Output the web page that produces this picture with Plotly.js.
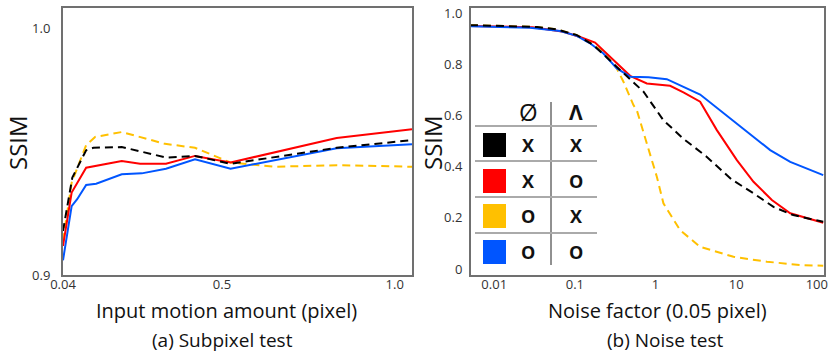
<!DOCTYPE html>
<html>
<head>
<meta charset="utf-8">
<script src="https://cdn.plot.ly/plotly-3.0.1.min.js"></script>
<style>
  html, body { margin: 0; padding: 0; background: #fff; }
  #chart { width: 830px; height: 359px; }
</style>
</head>
<body>
<div id="chart"></div>
<script>
// (a) subpixel test: input motion amount (pixel) vs SSIM
const subBlackX  = [0.04, 0.067, 0.107, 0.128, 0.21, 0.34, 0.422, 0.525, 0.832, 1.05];
const subBlackY  = [0.9179, 0.9396, 0.9507, 0.9517, 0.952, 0.9477, 0.9484, 0.9452, 0.9517, 0.9548];
const subRedX    = [0.04, 0.065, 0.107, 0.21, 0.263, 0.338, 0.422, 0.525, 0.832, 1.05];
const subRedY    = [0.9118, 0.9335, 0.9436, 0.9463, 0.9452, 0.9452, 0.9484, 0.9457, 0.9557, 0.9592];
const subYellowX = [0.04, 0.065, 0.107, 0.133, 0.21, 0.335, 0.422, 0.525, 0.653, 0.832, 1.05];
const subYellowY = [0.9138, 0.9375, 0.9528, 0.9561, 0.9581, 0.9533, 0.9517, 0.9457, 0.944, 0.9446, 0.944];
const subBlueX   = [0.04, 0.065, 0.081, 0.107, 0.136, 0.21, 0.268, 0.338, 0.422, 0.525, 0.832, 1.05];
const subBlueY   = [0.906, 0.928, 0.9308, 0.9366, 0.9371, 0.9409, 0.9413, 0.9432, 0.947, 0.9432, 0.9515, 0.9531];

// (b) noise test: noise factor (0.05 pixel) vs SSIM
const noiseBlackX  = [0.005, 0.034, 0.06, 0.106, 0.17, 0.27, 0.44, 0.71, 1.25, 2.2, 4.3, 8.8, 16.4, 29, 51, 120];
const noiseBlackY  = [0.953, 0.946, 0.936, 0.914, 0.875, 0.816, 0.751, 0.693, 0.582, 0.51, 0.439, 0.35, 0.296, 0.243, 0.211, 0.185];
const noiseRedX    = [0.005, 0.03, 0.072, 0.116, 0.178, 0.2735, 0.484, 0.78, 1.517, 2.219, 3.575, 5.76, 10.2, 16.4, 27.7, 46.8, 120];
const noiseRedY    = [0.95, 0.945, 0.927, 0.907, 0.885, 0.829, 0.755, 0.725, 0.716, 0.69, 0.654, 0.543, 0.426, 0.341, 0.27, 0.218, 0.181];
const noiseYellowX = [0.005, 0.034, 0.06, 0.106, 0.1274, 0.226, 0.331, 0.40, 0.532, 0.586, 0.899, 1.04, 1.253, 2.019, 3.575, 9.26, 24, 62.2, 120];
const noiseYellowY = [0.953, 0.946, 0.936, 0.914, 0.901, 0.849, 0.784, 0.732, 0.641, 0.621, 0.426, 0.36, 0.257, 0.152, 0.087, 0.048, 0.029, 0.016, 0.013];
const noiseBlueX   = [0.005, 0.0278, 0.0655, 0.1056, 0.1544, 0.226, 0.331, 0.49, 0.82, 1.38, 3.575, 10.2, 26.4, 46.8, 120];
const noiseBlueY   = [0.949, 0.943, 0.93, 0.911, 0.882, 0.842, 0.784, 0.751, 0.749, 0.742, 0.682, 0.569, 0.465, 0.419, 0.367];

// legend table
const seriesColors = ['#000000', '#ff0000', '#ffc000', '#0055ff'];
const legendPhi    = ['X', 'X', 'O', 'O'];
const legendLambda = ['X', 'O', 'X', 'O'];

const subTicks   = [0.04, 0.5, 1.0];
const subTickTxt = ['0.04', '0.5', '1.0'];
const noiseTicks = [0.01, 0.1, 1, 10, 100];
const noiseTickTxt = ['0.01', '0.1', '1', '10', '100'];
const ssimTicks  = [0, 0.2, 0.4, 0.6, 0.8, 1.0];
const ssimTickTxt = ['0', '0.2', '0.4', '0.6', '0.8', '1.0'];

const W = 830, H = 359;
const px = x => x / W;
const py = y => 1 - y / H;

function line(x, y, color, dash, xa, ya) {
  return {
    x: x, y: y, xaxis: xa, yaxis: ya,
    type: 'scatter', mode: 'lines',
    line: { color: color, width: 2, dash: dash ? '8px,5px' : 'solid' },
    showlegend: false, hoverinfo: 'skip'
  };
}

const traces = [
  line(subYellowX, subYellowY, seriesColors[2], true, 'x', 'y'),
  line(subBlueX, subBlueY, seriesColors[3], false, 'x', 'y'),
  line(subRedX, subRedY, seriesColors[1], false, 'x', 'y'),
  line(subBlackX, subBlackY, seriesColors[0], true, 'x', 'y'),
  line(noiseYellowX, noiseYellowY, seriesColors[2], true, 'x2', 'y2'),
  line(noiseRedX, noiseRedY, seriesColors[1], false, 'x2', 'y2'),
  line(noiseBlueX, noiseBlueY, seriesColors[3], false, 'x2', 'y2'),
  line(noiseBlackX, noiseBlackY, seriesColors[0], true, 'x2', 'y2')
];

const font = 'Open Sans, sans-serif';
const axisBase = {
  showline: true, mirror: true, linecolor: '#707070', linewidth: 2,
  showgrid: false, zeroline: false, ticks: '',
  tickfont: { family: font, size: 13, color: '#333' }
};
const yDomain = [py(275), py(8)];

const annotations = [
  { x: px(17), y: py(143), text: 'SSIM', textangle: -90, font: { size: 24 } },
  { x: px(432), y: py(143), text: 'SSIM', textangle: -90, font: { size: 24 } },
  { x: px(226), y: py(310), text: 'Input motion amount (pixel)', font: { size: 20 } },
  { x: px(657), y: py(310), text: 'Noise factor (0.05 pixel)', font: { size: 20 } },
  { x: px(222), y: py(340), text: '(a) Subpixel test', font: { size: 19 } },
  { x: px(665), y: py(340), text: '(b) Noise test', font: { size: 19 } },
  { x: px(528), y: py(111), text: 'Ø', font: { size: 24 } },
  { x: px(576), y: py(112), text: '<b>Λ</b>', font: { size: 21 } }
];

const shapes = [
  { type: 'line', xref: 'paper', yref: 'paper', x0: px(551), x1: px(551), y0: py(102), y1: py(265),
    line: { color: '#222', width: 1 } }
];
[126, 161, 197, 233].forEach(y => {
  shapes.push({ type: 'line', xref: 'paper', yref: 'paper', x0: px(475), x1: px(597), y0: py(y), y1: py(y),
    line: { color: '#aaa', width: 2 } });
});
const rowY = [145, 181, 216, 252];
seriesColors.forEach((c, i) => {
  shapes.push({ type: 'rect', xref: 'paper', yref: 'paper',
    x0: px(483), x1: px(506), y0: py(rowY[i] + 12), y1: py(rowY[i] - 12),
    fillcolor: c, line: { width: 0 } });
  annotations.push({ x: px(528), y: py(rowY[i]), text: '<b>' + legendPhi[i] + '</b>', font: { size: 18 } });
  annotations.push({ x: px(576), y: py(rowY[i]), text: '<b>' + legendLambda[i] + '</b>', font: { size: 18 } });
});
annotations.forEach(a => {
  a.xref = 'paper'; a.yref = 'paper'; a.showarrow = false;
  a.xanchor = 'center'; a.yanchor = 'middle';
  a.font = Object.assign({ family: font, color: '#111' }, a.font);
});

const layout = {
  width: W, height: H,
  margin: { l: 0, r: 0, t: 0, b: 0 },
  paper_bgcolor: '#fff', plot_bgcolor: '#fff',
  showlegend: false,
  xaxis: Object.assign({}, axisBase, {
    domain: [px(63), px(412)], range: [0.04, 1.05], anchor: 'y',
    tickvals: subTicks, ticktext: subTickTxt, ticklabelstandoff: -4
  }),
  yaxis: Object.assign({}, axisBase, {
    domain: yDomain, range: [0.9, 1.0085], anchor: 'x',
    tickvals: [0.9, 1.0], ticktext: ['0.9', '1.0'], ticklabelstandoff: 8
  }),
  xaxis2: Object.assign({}, axisBase, {
    type: 'log', domain: [px(471), px(824)], range: [-2.288, 2.089], anchor: 'y2',
    tickvals: noiseTicks, ticktext: noiseTickTxt, ticklabelstandoff: -4
  }),
  yaxis2: Object.assign({}, axisBase, {
    domain: yDomain, range: [-0.023, 1.02], anchor: 'x2',
    tickvals: ssimTicks, ticktext: ssimTickTxt, ticklabelstandoff: 4
  }),
  annotations: annotations,
  shapes: shapes
};

Plotly.newPlot('chart', traces, layout, { displayModeBar: false, staticPlot: true });
</script>
</body>
</html>
